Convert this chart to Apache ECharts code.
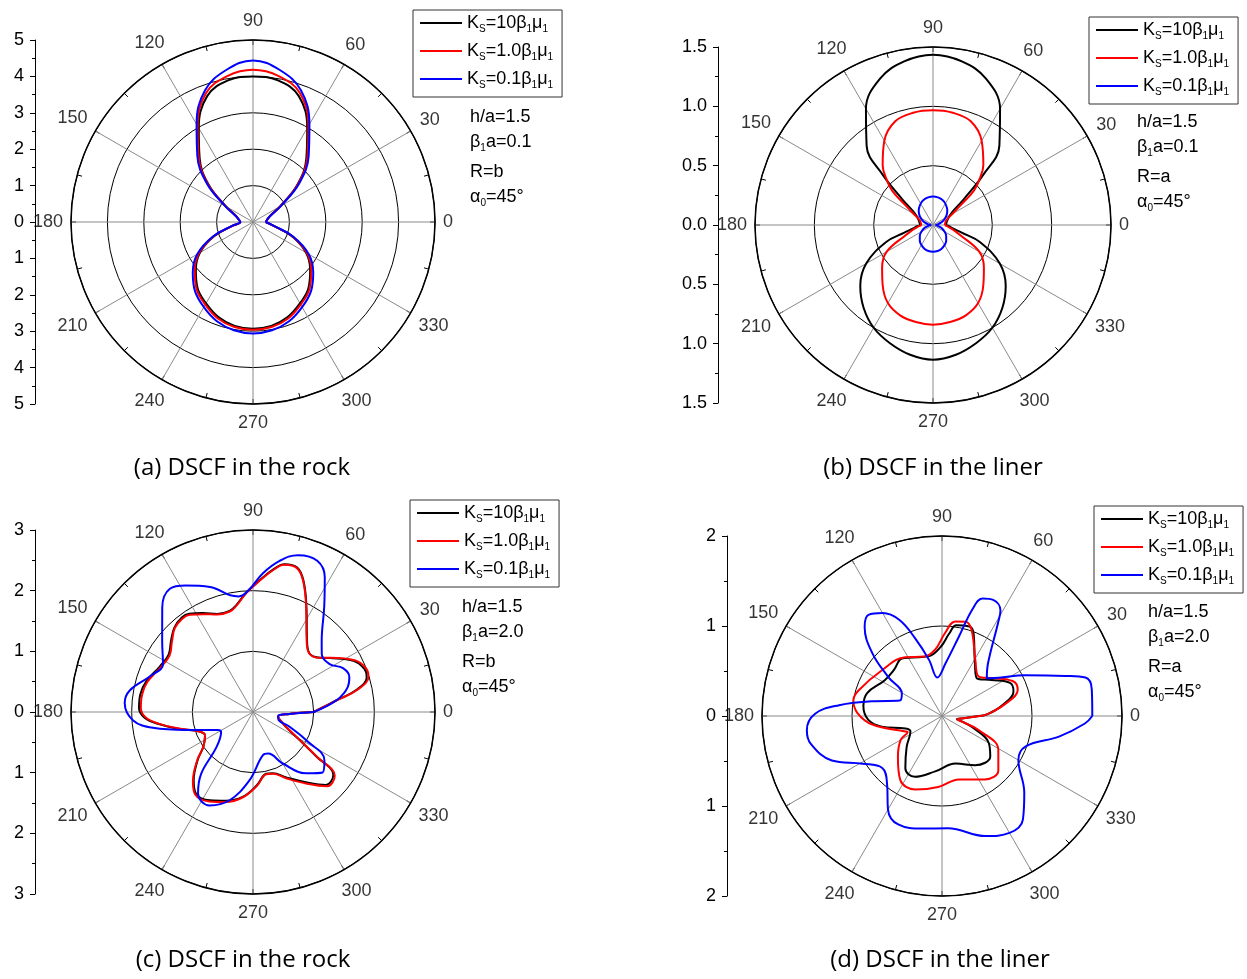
<!DOCTYPE html>
<html>
<head>
<meta charset="utf-8">
<script src="https://cdn.jsdelivr.net/npm/echarts@6/dist/echarts.min.js"></script>
<style>
html, body { margin: 0; padding: 0; background: #fff; }
#main { width: 1247px; height: 979px; }
</style>
</head>
<body>
<div id="main"></div>
<script>
// series names + legend text (K_S, beta_1, mu_1 with subscripts)
var names = ['Ks=10β1μ1', 'Ks=1.0β1μ1', 'Ks=0.1β1μ1'];
var legendText = {
	'Ks=10β1μ1': '{m|K}{s|S}{m|=10β}{s|1}{m|μ}{s|1}',
	'Ks=1.0β1μ1': '{m|K}{s|S}{m|=1.0β}{s|1}{m|μ}{s|1}',
	'Ks=0.1β1μ1': '{m|K}{s|S}{m|=0.1β}{s|1}{m|μ}{s|1}'
};
var colors = ['#000000', '#ff0000', '#0000ff'];

// angle tick labels (degrees)
var angleTicks = [0,30,60,90,120,150,180,210,240,270,300,330];

// (a) rock, beta1 a = 0.1, angle step 10 deg
var angA = [0,10,20,30,40,50,60,70,80,90,100,110,120,130,140,150,160,170,180,
	190,200,210,220,230,240,250,260,270,280,290,300,310,320,330,340,350,360];
var aBlack = [0.35,0.40,0.50,0.86,1.59,2.28,2.98,3.68,3.95,4.00,3.95,3.68,2.98,2.28,1.59,0.86,0.50,0.40,0.35,
	0.55,1.13,1.68,2.05,2.37,2.58,2.78,2.90,2.93,2.90,2.78,2.58,2.37,2.05,1.68,1.13,0.55,0.35];
var aRed = [0.35,0.40,0.51,0.87,1.62,2.32,3.04,3.77,4.07,4.18,4.07,3.77,3.04,2.32,1.62,0.87,0.51,0.40,0.35,
	0.56,1.15,1.71,2.09,2.41,2.62,2.82,2.93,2.96,2.93,2.82,2.62,2.41,2.09,1.71,1.15,0.56,0.35];
var aBlue = [0.35,0.40,0.52,0.89,1.66,2.38,3.10,3.85,4.24,4.44,4.24,3.85,3.10,2.38,1.66,0.89,0.52,0.40,0.35,
	0.57,1.18,1.77,2.16,2.48,2.70,2.90,3.02,3.06,3.02,2.90,2.70,2.48,2.16,1.77,1.18,0.57,0.35];

// (b) liner, beta1 a = 0.1
var angB = [0,10,20,30,35,40,45,50,60,70,80,90,100,110,120,130,135,140,145,150,160,170,180,
	185,190,195,200,210,220,230,240,250,260,270,280,290,300,310,320,330,340,345,350,355,360];
var bBlack = [0.11,0.115,0.13,0.165,0.21,0.34,0.60,0.87,1.13,1.31,1.40,1.435,1.40,1.31,1.13,0.87,0.60,0.34,0.21,0.165,0.13,0.115,0.11,
	0.14,0.17,0.25,0.42,0.65,0.80,0.91,1.00,1.06,1.11,1.135,1.11,1.06,1.00,0.91,0.80,0.65,0.42,0.25,0.17,0.14,0.11];
var bRed = [0.10,0.105,0.12,0.19,0.27,0.45,0.56,0.66,0.82,0.93,0.96,0.966,0.96,0.93,0.82,0.66,0.56,0.45,0.27,0.19,0.12,0.105,0.10,
	0.12,0.15,0.19,0.24,0.45,0.56,0.66,0.76,0.81,0.83,0.84,0.83,0.81,0.76,0.66,0.56,0.45,0.24,0.19,0.15,0.12,0.10];
var bBlue = [0.02,0.045,0.085,0.12,0.138,0.155,0.17,0.184,0.208,0.226,0.236,0.24,0.236,0.226,0.208,0.184,0.17,0.155,0.138,0.12,0.085,0.045,0.02,
	0.03,0.042,0.06,0.08,0.113,0.145,0.173,0.195,0.212,0.222,0.225,0.222,0.212,0.195,0.173,0.145,0.113,0.08,0.06,0.042,0.03,0.02];

// (c) rock, beta1 a = 2.0
var angC = [0,8,12,17,21,27,35,39,46,53,63,69,73,78,82,87,93,99,103,110,117,123,127,133,139,146,154,164,171,178,
	183,187,193,200,206,215,221,229,235,244,253,263,273,282,288,297,307,315,322,325,328,333,339,350,357,360];
var cBlack = [1.00,1.39,1.74,1.96,1.97,1.86,1.55,1.42,1.34,1.48,1.94,2.32,2.49,2.49,2.37,2.18,1.98,1.78,1.71,1.72,
	1.83,1.93,1.95,1.90,1.79,1.68,1.71,1.83,1.88,1.88,1.79,1.58,1.24,0.94,0.88,1.00,1.21,1.49,1.64,1.62,
	1.53,1.41,1.21,1.04,1.06,1.21,1.45,1.70,1.68,1.27,0.97,0.68,0.53,0.42,0.60,1.00];
var cRed = [1.00,1.40,1.76,1.99,2.00,1.88,1.56,1.42,1.34,1.47,1.93,2.31,2.48,2.48,2.36,2.17,1.97,1.77,1.70,1.71,
	1.81,1.91,1.93,1.89,1.77,1.66,1.69,1.81,1.85,1.85,1.77,1.57,1.23,0.94,0.88,1.00,1.22,1.51,1.66,1.64,
	1.55,1.42,1.22,1.05,1.07,1.23,1.48,1.73,1.71,1.29,0.98,0.69,0.53,0.42,0.60,1.00];
var angCBlue = [0,8,15,20,26,32,40,46,56,62,67,74,80,86,92,97,101,109,118,124,131,142,152,161,170,176,184,189,195,207,
	212,224,230,236,245,255,267,283,290,300,311,319,326,332,338,345,352,357,360];
var cBlue = [1.00,1.39,1.62,1.69,1.65,1.49,1.48,1.63,2.10,2.52,2.71,2.69,2.53,2.29,2.01,1.92,1.96,2.18,2.36,2.45,
	2.28,1.90,1.68,1.80,2.06,2.12,1.98,1.67,1.14,0.65,0.62,0.84,1.33,1.62,1.70,1.51,1.13,0.73,0.73,0.98,
	1.34,1.52,1.42,1.00,0.65,0.43,0.42,0.60,1.00];

// (d) liner, beta1 a = 2.0
var angDBlack = [0,2,10,19,26,36,47,58,69,73,81,85,91,103,117,125,136,148,163,173,183,190,199,206,221,235,246,263,286,304,320,330,340,345,348,354,360];
var dBlack = [0.41,0.50,0.68,0.84,0.84,0.68,0.57,0.69,0.98,1.04,1.02,0.92,0.77,0.68,0.73,0.78,0.74,0.75,0.87,0.88,
	0.82,0.68,0.43,0.39,0.52,0.71,0.74,0.62,0.55,0.66,0.70,0.60,0.35,0.22,0.17,0.24,0.41];
var angDRed = [0,2,11,19,26,37,47,59,71,76,82,88,96,107,122,143,163,170,178,187,203,205,210,223,237,250,267,285,304,316,329,339,344,347,354,360];
var dRed = [0.42,0.50,0.72,0.89,0.88,0.70,0.60,0.72,1.01,1.08,1.06,0.92,0.74,0.69,0.77,0.84,0.97,1.00,0.94,0.78,
	0.44,0.42,0.53,0.67,0.85,0.87,0.79,0.73,0.85,0.87,0.73,0.44,0.23,0.175,0.24,0.42];
var angDBlue = [0,10,15,18,26,34,40,49,59,61,66,71,74,78,86,97,103,109,114,120,126,131,138,144,151,160,168,174,179,186,
	192,202,211,221,231,240,248,260,273,290,300,308,317,330,340,350,357,360];
var dBlue = [1.67,1.69,1.65,1.44,1.03,0.76,0.65,0.78,1.21,1.34,1.41,1.38,1.24,0.90,0.59,0.43,0.64,0.91,1.17,1.32,
	1.39,1.31,1.04,0.74,0.51,0.50,0.79,1.15,1.41,1.51,1.49,1.32,1.03,0.88,0.97,1.20,1.30,1.27,1.25,1.42,
	1.50,1.46,1.25,0.98,0.99,1.32,1.59,1.67];

// parameter notes and captions
var notesA = ['h/a=1.5', '{m|β}{s|1}{m|a=0.1}', 'R=b', '{m|α}{s|0}{m|=45°}'];
var notesB = ['h/a=1.5', '{m|β}{s|1}{m|a=0.1}', 'R=a', '{m|α}{s|0}{m|=45°}'];
var notesC = ['h/a=1.5', '{m|β}{s|1}{m|a=2.0}', 'R=b', '{m|α}{s|0}{m|=45°}'];
var notesD = ['h/a=1.5', '{m|β}{s|1}{m|a=2.0}', 'R=a', '{m|α}{s|0}{m|=45°}'];
var captions = ['(a) DSCF in the rock', '(b) DSCF in the liner', '(c) DSCF in the rock', '(d) DSCF in the liner'];

// layout of the four panels
var panels = [
	{ center: [253, 222], r: 182, rmax: 5, step: 1, axisX: 35, dec: 0, legend: [413, 10], note: [470, 117], notes: notesA, cap: [242, 468],
		curves: [[angA, aBlack], [angA, aRed], [angA, aBlue]] },
	{ center: [933, 225], r: 178, rmax: 1.5, step: 0.5, axisX: 718, dec: 1, legend: [1089, 17], note: [1137, 122], notes: notesB, cap: [933, 468],
		curves: [[angB, bBlack], [angB, bRed], [angB, bBlue]] },
	{ center: [253, 712], r: 182, rmax: 3, step: 1, axisX: 35, dec: 0, legend: [410, 500], note: [462, 607], notes: notesC, cap: [243, 960],
		curves: [[angC, cBlack], [angC, cRed], [angCBlue, cBlue]] },
	{ center: [942, 716], r: 180, rmax: 2, step: 1, axisX: 727, dec: 0, legend: [1094, 506], note: [1148, 612], notes: notesD, cap: [940, 960],
		curves: [[angDBlack, dBlack], [angDRed, dRed], [angDBlue, dBlue]] }
];
var noteOffsets = [0, 25, 55, 80];

var numFont = 'Liberation Sans';
var rich = {
	m: { fontFamily: numFont, fontSize: 18, color: '#000', lineHeight: 22, verticalAlign: 'middle' },
	s: { fontFamily: numFont, fontSize: 10, color: '#000', verticalAlign: 'bottom' }
};

function zip(ang, r) {
	return ang.map(function(a, i) { return [r[i], a]; });
}

// radius (in axis units) where an angle label's centre sits: gap plus half the text box
function labelRadius(p, a) {
	var t = a * Math.PI / 180;
	var hw = String(a).length * 5, hh = 11;
	var d = p.r + 8 + hw * Math.abs(Math.cos(t)) + hh * Math.abs(Math.sin(t));
	return p.rmax * d / p.r;
}

var polar = [], angleAxis = [], radiusAxis = [], grid = [], xAxis = [], yAxis = [];
var series = [], legend = [], graphic = [];

panels.forEach(function(p, i) {
	polar.push({ center: p.center, radius: p.r });
	angleAxis.push({
		polarIndex: i, type: 'value', min: 0, max: 360, interval: 30,
		startAngle: 0, clockwise: false,
		axisLine: { lineStyle: { color: '#000', width: 1.5 } },
		axisTick: { inside: true, length: 5, lineStyle: { color: '#000' } },
		minorTick: { show: true, splitNumber: 2, length: 5, lineStyle: { color: '#000' } },
		splitLine: { show: true, lineStyle: { color: '#8a8a8a', width: 1 } },
		axisLabel: { show: false }
	});
	radiusAxis.push({
		polarIndex: i, type: 'value', min: 0, max: p.rmax, interval: p.step,
		axisLine: { show: false }, axisTick: { show: false }, axisLabel: { show: false },
		splitLine: { show: true, lineStyle: { color: '#000', width: 1 } }
	});
	// mirrored radius scale on the left
	grid.push({ left: p.axisX, top: p.center[1] - p.r, width: 10, height: p.r * 2 });
	xAxis.push({ gridIndex: i, type: 'value', show: false });
	yAxis.push({
		gridIndex: i, type: 'value', min: -p.rmax, max: p.rmax, interval: p.step, position: 'left',
		axisLine: { show: true, lineStyle: { color: '#000', width: 1 } },
		axisTick: { show: true, length: 5, lineStyle: { color: '#000' } },
		minorTick: { show: true, splitNumber: 2, length: 3, lineStyle: { color: '#000' } },
		splitLine: { show: false },
		axisLabel: {
			margin: 11, fontFamily: numFont, fontSize: 18, color: '#000',
			formatter: function(v) { return Math.abs(v).toFixed(p.dec); }
		}
	});
	p.curves.forEach(function(c, k) {
		series.push({
			type: 'line', name: names[k], coordinateSystem: 'polar', polarIndex: i,
			data: zip(c[0], c[1]), showSymbol: false, symbol: 'none', smooth: 0.4,
			lineStyle: { width: 2, color: colors[k] }, itemStyle: { color: colors[k] },
			silent: true
		});
	});
	// angle labels centred just outside the circle
	series.push({
		type: 'scatter', coordinateSystem: 'polar', polarIndex: i, clip: false, silent: true,
		data: angleTicks.map(function(a) { return [labelRadius(p, a), a]; }),
		symbolSize: 1, itemStyle: { color: 'rgba(0,0,0,0)' },
		label: {
			show: true, position: 'inside', fontFamily: numFont, fontSize: 18, color: '#000',
			formatter: function(q) { return q.value[1]; }
		}
	});
	legend.push({
		data: names, orient: 'vertical', left: p.legend[0], top: p.legend[1],
		icon: 'rect', itemWidth: 42, itemHeight: 2, itemGap: 8,
		padding: [4, 9, 7, 7], borderColor: '#333', borderWidth: 1, backgroundColor: '#fff',
		selectedMode: false,
		formatter: function(n) { return legendText[n]; },
		textStyle: { fontFamily: numFont, fontSize: 18, color: '#000', rich: rich }
	});
	p.notes.forEach(function(t, j) {
		graphic.push({
			type: 'text', x: p.note[0], y: p.note[1] + noteOffsets[j],
			style: { text: t, rich: rich, font: '18px ' + numFont, fill: '#000', align: 'left', verticalAlign: 'middle' }
		});
	});
	graphic.push({
		type: 'text', x: p.cap[0], y: p.cap[1],
		style: { text: captions[i], font: '24px "Open Sans"', fill: '#000', align: 'center', verticalAlign: 'middle' }
	});
});

var myChart = echarts.init(document.getElementById('main'));
myChart.setOption({
	animation: false,
	backgroundColor: '#fff',
	polar: polar,
	angleAxis: angleAxis,
	radiusAxis: radiusAxis,
	grid: grid,
	xAxis: xAxis,
	yAxis: yAxis,
	legend: legend,
	series: series,
	graphic: graphic
});
</script>
</body>
</html>
